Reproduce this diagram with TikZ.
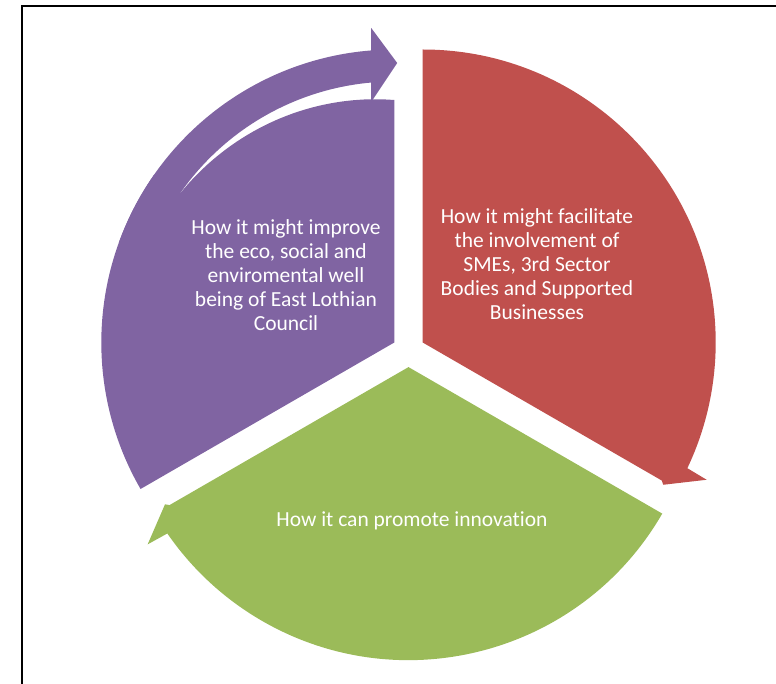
\documentclass[tikz,border=0pt]{standalone}
\usepackage{fontspec}
\setmainfont[Ligatures={NoCommon}]{Carlito}
\usetikzlibrary{calc}
\definecolor{segpurple}{HTML}{8064A2}
\definecolor{segred}{HTML}{C0504D}
\definecolor{seggreen}{HTML}{9BBB59}
\begin{document}
\begin{tikzpicture}[x=1pt,y=1pt,
  segtext/.style={text=white, font=\fontsize{21.5}{24}\selectfont, align=center, inner sep=0pt}]
\useasboundingbox (0,0) rectangle (776,-684);
\clip (0,0) rectangle (776,-684);
\draw[line width=2pt] (21.5,-6.5) rectangle (820,-740);
\coordinate (Pp) at (394.3,-342.5);
\coordinate (Pr) at (422.7,-342.5);
\coordinate (Pg) at (408.5,-367.1);
% red segment
\fill[segred] (Pr) -- ($(Pr)+(90:293)$) arc[start angle=90, end angle=-25.4, radius=293pt]
  -- ($(Pr)+(-25.8:315.4)$) -- ($(Pr)+(-30.6:279.5)$) -- ($(Pr)+(-30:276)$) -- cycle;
% green segment
\fill[seggreen] (Pg) -- ($(Pg)+(330:293)$) arc[start angle=330, end angle=214.6, radius=293pt]
  -- ($(Pg)+(214.2:315.4)$) -- ($(Pg)+(209.4:279.5)$) -- ($(Pg)+(210:276)$) -- cycle;
% purple body
\fill[segpurple] (Pp) -- ($(Pp)+(210:293)$) arc[start angle=210, end angle=145, radius=293pt]
  -- plot[domain=145:90, samples=40] ({394.3+(242.5+17.2*(\x-90)/51.3)*cos(\x)}, {-342.5+(242.5+17.2*(\x-90)/51.3)*sin(\x)})
  -- cycle;
% purple arrow shaft and head
\fill[segpurple] ($(Pp)+(160:293)$) arc[start angle=160, end angle=94.56, radius=293pt]
  -- ($(Pp)+(94.2:315.4)$) -- ($(Pp)+(89.4:279.5)$) -- ($(Pp)+(95.5:241.6)$)
  -- ($(Pp)+(95.12:261)$) arc[start angle=95.12, end angle=160, radius=261pt] -- cycle;
\node[segtext] (tpurple) at (286,-275) {How it might improve\\the eco, social and\\enviromental well\\being of East Lothian\\Council};
\node[segtext] (tred) at (537,-264) {How it might facilitate\\the involvement of\\SMEs, 3rd Sector\\Bodies and Supported\\Businesses};
\node[segtext] (tgreen) at (412,-521) {How it can promote innovation};
\end{tikzpicture}
\end{document}
